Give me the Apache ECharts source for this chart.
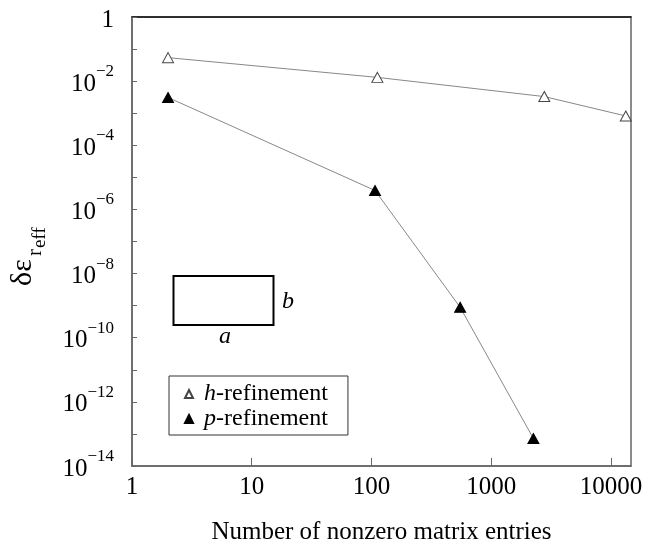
<!DOCTYPE html>
<html>
<head>
    <meta charset="UTF-8">
    <title>Refinement error</title>
    <script src="https://cdn.jsdelivr.net/npm/echarts@6/dist/echarts.min.js"></script>
    <style>
        html, body { margin: 0; padding: 0; background: #fff; }
        #chart { width: 671px; height: 550px; }
    </style>
</head>
<body>
    <div id="chart"></div>

    <script>
            // values
            var hNames = 'h-refinement';
            var pNames = 'p-refinement';
            var hX = [2, 112, 2775, 13300];
            var hY = [0.054, 0.0131, 0.0033, 0.00082];
            var pX = [2, 107, 550, 2250];
            var pY = [0.0031, 3.9e-6, 8.9e-10, 7.2e-14];
            var xTitle = 'Number of nonzero matrix entries';

            var font = 'Liberation Serif, Times New Roman, serif';

            function pairs(xs, ys) {
                return xs.map(function (x, i) { return [x, ys[i]]; });
            }

            var chart = echarts.init(document.getElementById('chart'), null, {renderer: 'canvas'});

            var option = {
                animation: false,
                backgroundColor: '#fff',
                textStyle: {fontFamily: font, color: '#000'},
                grid: {left: 132, right: 40, top: 17, bottom: 72, show: true, borderColor: '#666', borderWidth: 1.5},
                legend: {
                    orient: 'vertical',
                    left: 169, top: 376,
                    padding: [6, 20, 4, 15],
                    itemGap: 1,
                    itemWidth: 8, itemHeight: 8,
                    icon: 'triangle',
                    borderColor: '#333', borderWidth: 1,
                    data: [hNames, pNames],
                    formatter: function (name) {
                        return '{i|' + name.charAt(0) + '}{t|' + name.slice(1) + '}';
                    },
                    textStyle: {
                        fontFamily: font, fontSize: 24, color: '#000',
                        rich: {
                            i: {fontFamily: font, fontSize: 24, fontStyle: 'italic', color: '#000', padding: [0, 0, 0, 6]},
                            t: {fontFamily: font, fontSize: 24, color: '#000'}
                        }
                    }
                },
                xAxis: [{
                    type: 'log', logBase: 10, min: 1, max: 14700, interval: 1,
                    name: xTitle, nameLocation: 'middle', nameGap: 54,
                    nameTextStyle: {fontFamily: font, fontSize: 25, color: '#000'},
                    axisLine: {lineStyle: {color: '#666', width: 1.5}},
                    axisTick: {inside: true, length: 8, lineStyle: {color: '#666'}},
                    minorTick: {show: false},
                    splitLine: {show: false},
                    axisLabel: {
                        margin: 9, fontFamily: font, fontSize: 25, color: '#000', showMaxLabel: false,
                        formatter: function (v) {
                            var e = Math.log10(v);
                            return Math.abs(e - Math.round(e)) < 1e-6 ? String(Math.round(v)) : '';
                        }
                    }
                }, {
                    type: 'log', logBase: 10, min: 1, max: 14700, position: 'top',
                    axisLine: {lineStyle: {color: '#111', width: 1.5}},
                    axisTick: {show: false}, axisLabel: {show: false}, splitLine: {show: false}
                }],
                yAxis: {
                    type: 'log', logBase: 10, min: 1e-14, max: 1, interval: 1,
                    axisLine: {lineStyle: {color: '#666', width: 1.5}},
                    axisTick: {inside: true, length: 5, lineStyle: {color: '#666'}},
                    splitLine: {show: false},
                    axisLabel: {
                        margin: 18, padding: [6, 0, 0, 0],
                        fontFamily: font, fontSize: 25, color: '#000',
                        formatter: function (v) {
                            var e = Math.round(Math.log10(v));
                            if (e % 2 !== 0) return '';
                            if (e === 0) return '{b|1}';
                            return '{b|10}{s|\u2212' + (-e) + '}';
                        },
                        rich: {
                            b: {fontFamily: font, fontSize: 25, lineHeight: 42, color: '#000'},
                            s: {fontFamily: font, fontSize: 17, lineHeight: 17, verticalAlign: 'top', color: '#000'}
                        }
                    }
                },
                graphic: [
                    {
                        type: 'rect', silent: true,
                        shape: {x: 173.5, y: 276, width: 100, height: 49},
                        style: {fill: null, stroke: '#000', lineWidth: 2}
                    },
                    {
                        type: 'text', x: 282, y: 302, silent: true,
                        style: {text: 'b', font: 'italic 24px ' + font, fill: '#000', textVerticalAlign: 'middle'}
                    },
                    {
                        type: 'text', x: 225, y: 337, silent: true,
                        style: {text: 'a', font: 'italic 24px ' + font, fill: '#000', textAlign: 'center', textVerticalAlign: 'middle'}
                    },
                    {
                        type: 'group', x: 23, y: 286, rotation: Math.PI / 2, silent: true,
                        children: [
                            {type: 'text', x: 0, y: 0, style: {text: '\u03b4\u03b5', font: '30px ' + font, fill: '#000', textVerticalAlign: 'middle'}},
                            {type: 'text', x: 30, y: 12, style: {text: 'r', font: '21px ' + font, fill: '#000', textVerticalAlign: 'middle'}},
                            {type: 'text', x: 38, y: 17, style: {text: 'eff', font: '19px ' + font, fill: '#000', textVerticalAlign: 'middle'}}
                        ]
                    }
                ],
                series: [
                    {
                        name: hNames, type: 'line',
                        data: pairs(hX, hY),
                        symbol: 'triangle', symbolSize: [11, 10], showSymbol: true,
                        lineStyle: {color: '#888', width: 1},
                        itemStyle: {color: '#fff', borderColor: '#444', borderWidth: 1}
                    },
                    {
                        name: pNames, type: 'line',
                        data: pairs(pX, pY),
                        symbol: 'triangle', symbolSize: [11, 10], showSymbol: true,
                        lineStyle: {color: '#888', width: 1},
                        itemStyle: {color: '#000', borderColor: '#000', borderWidth: 1}
                    }
                ]
            };

            chart.setOption(option);
    </script>
</body>
</html>
